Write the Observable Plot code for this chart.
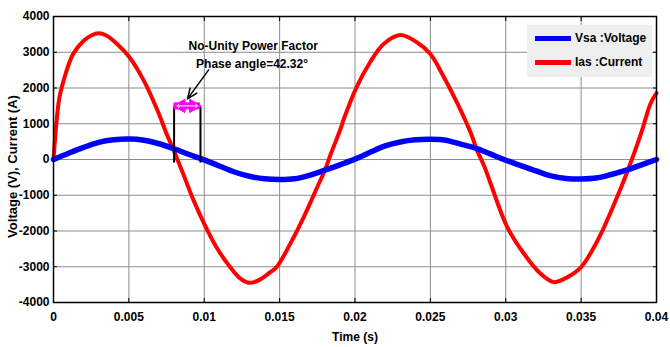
<!DOCTYPE html>
<html><head><meta charset="utf-8">
<script src="https://cdn.jsdelivr.net/npm/d3@7"></script>
<script src="https://cdn.jsdelivr.net/npm/@observablehq/plot@0.6"></script>
<style>
body{margin:0;background:#fff;}
#wrap{position:relative;width:670px;height:347px;}
#legend{position:absolute;left:527px;top:25px;width:125px;height:52px;background:#efefef;font:bold 12px "Liberation Sans",Arial,sans-serif;color:#000;white-space:nowrap;}
#legend .row{position:absolute;left:8px;height:16px;display:flex;align-items:center;}
#legend .sw{width:36px;height:5px;margin-right:4px;}
</style>
</head><body>
<div id="wrap"><div id="chart"></div>
<div id="legend">
  <div class="row" style="top:5px"><div class="sw" style="background:#0000ff"></div><span id="l1"></span></div>
  <div class="row" style="top:29px"><div class="sw" style="background:#ff0000"></div><span id="l2"></span></div>
</div></div>
<script>
// Series names
const seriesNames = ["Vsa :Voltage", "Ias :Current"];
// Voltage Vsa (V)
const voltT = [0,0.001,0.002,0.003,0.004,0.005,0.006,0.007,0.008,0.009,0.010,0.011,0.012,0.013,0.014,0.015,0.016,0.017,0.018,0.019,0.020,0.021,0.022,0.023,0.024,0.025,0.026,0.027,0.028,0.029,0.030,0.031,0.032,0.033,0.034,0.035,0.036,0.037,0.038,0.039,0.040];
const voltV = [0,175,340,480,550,570,540,440,300,140,-10,-180,-350,-470,-540,-560,-540,-440,-300,-150,10,200,380,490,550,565,540,430,320,150,-20,-170,-320,-460,-530,-545,-520,-420,-300,-150,0];
// Current Ias (A)
const currT = [0,0.0002,0.0004,0.0007,0.0010,0.0013,0.0020,0.0025,0.0030,0.0035,0.0042,0.0050,0.0060,0.0069,0.0075,0.0080,0.0086,0.0093,0.0100,0.0108,0.0117,0.0124,0.0130,0.0136,0.0143,0.0148,0.0157,0.0166,0.0175,0.0180,0.0184,0.0190,0.0193,0.0201,0.0210,0.0219,0.0230,0.0241,0.0250,0.0259,0.0268,0.0277,0.0281,0.0286,0.0290,0.0301,0.0312,0.0323,0.0332,0.0341,0.0350,0.0361,0.0372,0.0381,0.0390,0.0396,0.0400];
const currV = [0,1050,1750,2250,2650,2950,3320,3470,3530,3470,3240,2880,2200,1370,720,230,-400,-1150,-1800,-2450,-3000,-3330,-3450,-3380,-3180,-3010,-2360,-1610,-770,-300,160,810,1180,2020,2720,3230,3480,3280,2950,2300,1560,720,250,-215,-680,-1890,-2630,-3190,-3430,-3290,-3010,-2260,-1240,-300,760,1560,1860];
// Axis ticks and labels
const xTicks = [0,0.005,0.01,0.015,0.02,0.025,0.03,0.035,0.04];
const xTickLabels = ["0","0.005","0.01","0.015","0.02","0.025","0.03","0.035","0.04"];
const yTicks = [-4000,-3000,-2000,-1000,0,1000,2000,3000,4000];
const yTickLabels = ["-4000","-3000","-2000","-1000","0","1000","2000","3000","4000"];
const xLabel = "Time (s)";
const yLabel = "Voltage (V), Current (A)";
// Annotation
const annoLines = ["No-Unity Power Factor", "Phase angle=42.32\u00b0"];
const annoTextT = [0.01325, 0.01317];
const annoTextV = [3184, 2673];
const markT = [0.0080, 0.00975];
const markLow = -100, markHigh = 1460;
const phaseArrowV = 1500;
const pointerFrom = [0.01029, 2506];
const pointerTo = [0.00889, 1696];

document.getElementById("l1").textContent = seriesNames[0];
document.getElementById("l2").textContent = seriesNames[1];

const volt = voltT.map((t,i)=>({t, v: voltV[i]}));
const curr = currT.map((t,i)=>({t, v: currV[i]}));
const font = '"Liberation Sans",Arial,sans-serif';
const midT = (markT[0]+markT[1])/2;
const pointer = [{x1: pointerFrom[0], y1: pointerFrom[1], x2: pointerTo[0], y2: pointerTo[1]}];

const chart = Plot.plot({
  width: 670, height: 347,
  marginLeft: 53, marginRight: 14, marginTop: 16, marginBottom: 45,
  style: {fontFamily: font, fontSize: "12px", fontWeight: "bold", background: "#fff", color: "#000"},
  x: {domain: [0, 0.04], label: null},
  y: {domain: [-4000, 4000], label: null},
  marks: [
    Plot.gridX(xTicks, {stroke: "#8c8c8c", strokeOpacity: 1}),
    Plot.gridY(yTicks, {stroke: "#8c8c8c", strokeOpacity: 1}),
    Plot.axisX({anchor: "bottom", ticks: xTicks, tickSize: 0, tickPadding: 10, tickFormat: (d,i)=>xTickLabels[i]}),
    Plot.axisX({anchor: "bottom", ticks: xTicks, tickSize: -4, text: null}),
    Plot.axisX({anchor: "top", ticks: xTicks, tickSize: -4, text: null}),
    Plot.axisY({anchor: "left", ticks: yTicks, tickSize: 0, tickPadding: 4, tickFormat: (d,i)=>yTickLabels[i]}),
    Plot.axisY({anchor: "left", ticks: yTicks, tickSize: -4, text: null}),
    Plot.axisY({anchor: "right", ticks: yTicks, tickSize: -4, text: null}),
    Plot.line(curr, {x: "t", y: "v", stroke: "#ff0000", strokeWidth: 4, curve: "catmull-rom"}),
    Plot.line(volt, {x: "t", y: "v", stroke: "#0000ff", strokeWidth: 5.5, curve: "catmull-rom"}),
    Plot.ruleX(markT, {x: d=>d, y1: markLow, y2: markHigh, stroke: "#000", strokeWidth: 2}),
    // magenta double arrow between the two marker lines
    Plot.ruleY([phaseArrowV], {x1: markT[0], x2: markT[1], y: d=>d, stroke: "#ff00ff", strokeWidth: 7}),
    Plot.dot([markT[0]], {x: d=>d, y: phaseArrowV, symbol: "triangle", r: 5, rotate: -90, dx: 7, fill: "#ff00ff", stroke: "#ff00ff", strokeWidth: 1}),
    Plot.dot([markT[1]], {x: d=>d, y: phaseArrowV, symbol: "triangle", r: 5, rotate: 90, dx: -7, fill: "#ff00ff", stroke: "#ff00ff", strokeWidth: 1}),
    Plot.arrow(markT, {x1: midT, x2: d=>d, y1: phaseArrowV, y2: phaseArrowV, stroke: "#fff", strokeWidth: 1, headLength: 4, headAngle: 90, insetEnd: 3}),
    Plot.arrow(pointer, {x1: "x1", y1: "y1", x2: "x2", y2: "y2", stroke: "#000", strokeWidth: 1.5, headLength: 11, headAngle: 45}),
    Plot.text(annoLines, {x: (d,i)=>annoTextT[i], y: (d,i)=>annoTextV[i], text: d=>d, fontSize: 12, fontWeight: "bold", fill: "#000"}),
    Plot.text([yLabel], {frameAnchor: "left", dx: -41, dy: 7, rotate: -90, textAnchor: "middle", fontSize: 13, fontWeight: "bold", fill: "#000"}),
    Plot.text([xLabel], {frameAnchor: "bottom", dy: 38, fontSize: 12, fontWeight: "bold", fill: "#000"}),
    Plot.frame({stroke: "#000", strokeWidth: 1.5})
  ]
});
document.getElementById("chart").appendChild(chart);
</script>
</body></html>
